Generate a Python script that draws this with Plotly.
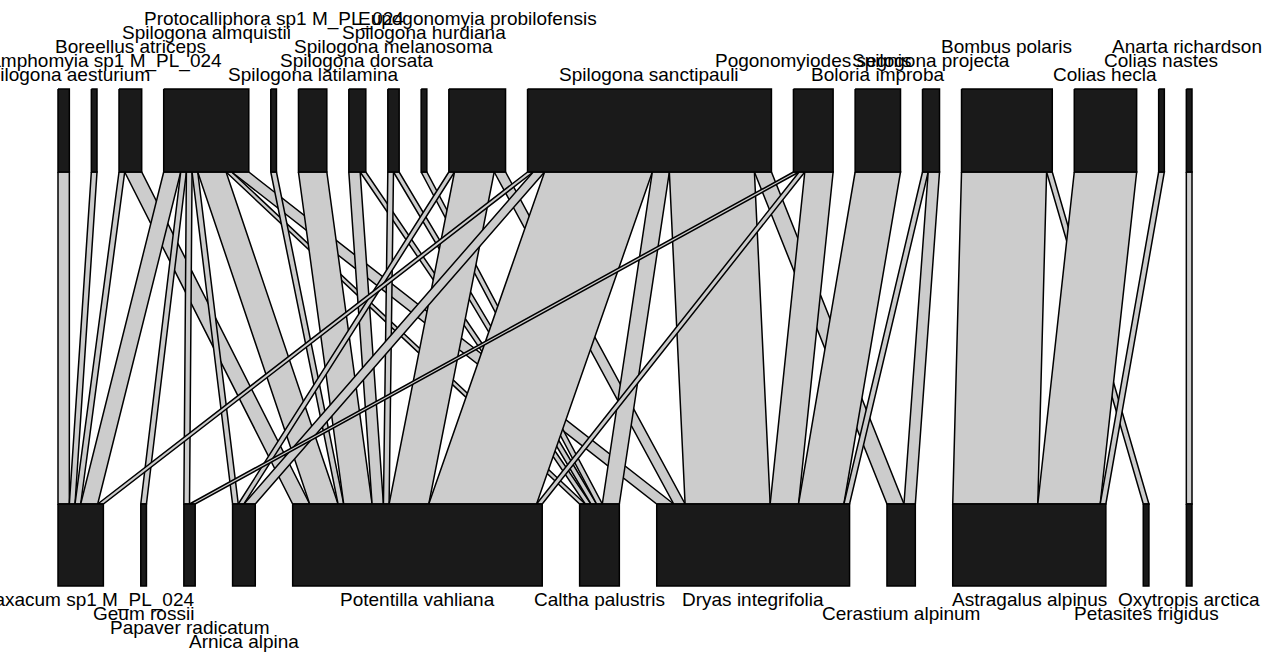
import plotly.graph_objects as go

# ---------------- data ----------------
pollinators = [
    "Spilogona aesturium", "Rhamphomyia sp1 M_PL_024", "Boreellus atriceps",
    "Spilogona almquistii", "Protocalliphora sp1 M_PL_024", "Spilogona latilamina",
    "Spilogona dorsata", "Spilogona melanosoma", "Spilogona hurdiana",
    "Eupogonomyia probilofensis", "Spilogona sanctipauli", "Pogonomyiodes segnis",
    "Boloria improba", "Spilogona projecta", "Bombus polaris", "Colias hecla",
    "Colias nastes", "Anarta richardsoni",
]
plants = [
    "Taraxacum sp1 M_PL_024", "Geum rossii", "Papaver radicatum", "Arnica alpina",
    "Potentilla vahliana", "Caltha palustris", "Dryas integrifolia",
    "Cerastium alpinum", "Astragalus alpinus", "Petasites frigidus", "Oxytropis arctica",
]
# interaction counts: one row per pollinator, columns follow `plants`
spilogona_aesturium      = [2, 0, 0, 0, 0, 0, 0, 0, 0, 0, 0]
rhamphomyia_sp1          = [1, 0, 0, 0, 0, 0, 0, 0, 0, 0, 0]
boreellus_atriceps       = [1, 0, 0, 0, 3, 0, 0, 0, 0, 0, 0]
spilogona_almquistii     = [3, 1, 1, 1, 5, 1, 3, 0, 0, 0, 0]
protocalliphora_sp1      = [0, 0, 0, 0, 1, 0, 0, 0, 0, 0, 0]
spilogona_latilamina     = [0, 0, 0, 0, 5, 0, 0, 0, 0, 0, 0]
spilogona_dorsata        = [0, 0, 0, 0, 2, 1, 0, 0, 0, 0, 0]
spilogona_melanosoma     = [0, 0, 0, 0, 1, 1, 0, 0, 0, 0, 0]
spilogona_hurdiana       = [0, 0, 0, 0, 0, 1, 0, 0, 0, 0, 0]
eupogonomyia_probilof    = [0, 0, 0, 1, 7, 0, 2, 0, 0, 0, 0]
spilogona_sanctipauli    = [1, 0, 0, 2, 19, 3, 15, 3, 0, 0, 0]
pogonomyiodes_segnis     = [0, 0, 1, 0, 1, 0, 5, 0, 0, 0, 0]
boloria_improba          = [0, 0, 0, 0, 0, 0, 8, 0, 0, 0, 0]
spilogona_projecta       = [0, 0, 0, 0, 0, 0, 1, 2, 0, 0, 0]
bombus_polaris           = [0, 0, 0, 0, 0, 0, 0, 0, 15, 1, 0]
colias_hecla             = [0, 0, 0, 0, 0, 0, 0, 0, 11, 0, 0]
colias_nastes            = [0, 0, 0, 0, 0, 0, 0, 0, 1, 0, 0]
anarta_richardsoni       = [0, 0, 0, 0, 0, 0, 0, 0, 0, 0, 1]

web = [
    spilogona_aesturium, rhamphomyia_sp1, boreellus_atriceps, spilogona_almquistii,
    protocalliphora_sp1, spilogona_latilamina, spilogona_dorsata, spilogona_melanosoma,
    spilogona_hurdiana, eupogonomyia_probilof, spilogona_sanctipauli, pogonomyiodes_segnis,
    boloria_improba, spilogona_projecta, bombus_polaris, colias_hecla, colias_nastes,
    anarta_richardsoni,
]

# label staggering tiers (layout only)
high_tier = [0, 1, 2, 3, 4, 0, 1, 2, 3, 4, 0, 1, 0, 1, 2, 0, 1, 2]
low_tier = [0, 1, 2, 3, 0, 0, 0, 1, 0, 1, 0]

# ---------------- layout (plot units == pixels) ----------------
W, H = 1262, 652
X0, X1 = 58.0, 1192.0
HIGH_TOP, HIGH_BOT = 89.0, 172.0
LOW_TOP, LOW_BOT = 504.0, 586.0
GAP_HIGH = 22.0

n_high, n_low = len(pollinators), len(plants)
high_tot = [sum(r) for r in web]
low_tot = [sum(web[i][j] for i in range(n_high)) for j in range(n_low)]
total = sum(high_tot)
GAP_LOW = GAP_HIGH * (n_high - 1) / (n_low - 1)
unit = ((X1 - X0) - GAP_HIGH * (n_high - 1)) / total

high_x = []
x = X0
for t in high_tot:
    high_x.append((x, x + t * unit))
    x += t * unit + GAP_HIGH
low_x = []
x = X0
for t in low_tot:
    low_x.append((x, x + t * unit))
    x += t * unit + GAP_LOW

# link segment positions on each box
high_seg = {}
for i in range(n_high):
    x = high_x[i][0]
    for j in range(n_low):
        v = web[i][j]
        if v > 0:
            high_seg[(i, j)] = (x, x + v * unit)
            x += v * unit
low_seg = {}
for j in range(n_low):
    x = low_x[j][0]
    for i in range(n_high):
        v = web[i][j]
        if v > 0:
            low_seg[(i, j)] = (x, x + v * unit)
            x += v * unit

LINK_FILL = "#CCCCCC"
BOX_FILL = "#1A1A1A"
LW = 1.5

fig = go.Figure()
for i in range(n_high):
    for j in range(n_low):
        if web[i][j] > 0:
            a, b = high_seg[(i, j)]
            c, d = low_seg[(i, j)]
            fig.add_trace(go.Scatter(
                x=[a, b, d, c, a], y=[HIGH_BOT, HIGH_BOT, LOW_TOP, LOW_TOP, HIGH_BOT],
                mode="lines", fill="toself", fillcolor=LINK_FILL,
                line=dict(color="black", width=LW), hoverinfo="skip", showlegend=False))

for (a, b) in high_x:
    fig.add_trace(go.Scatter(
        x=[a, b, b, a, a], y=[HIGH_TOP, HIGH_TOP, HIGH_BOT, HIGH_BOT, HIGH_TOP],
        mode="lines", fill="toself", fillcolor=BOX_FILL,
        line=dict(color="black", width=LW), hoverinfo="skip", showlegend=False))
for (a, b) in low_x:
    fig.add_trace(go.Scatter(
        x=[a, b, b, a, a], y=[LOW_TOP, LOW_TOP, LOW_BOT, LOW_BOT, LOW_TOP],
        mode="lines", fill="toself", fillcolor=BOX_FILL,
        line=dict(color="black", width=LW), hoverinfo="skip", showlegend=False))

FS = 19
FONT = dict(family="Liberation Sans, Arial, Helvetica, sans-serif", size=FS, color="black")
HIGH_BASE = 81.0
LOW_BASE = 606.5
STEP = 13.9
ann = []
for i, name in enumerate(pollinators):
    cx = (high_x[i][0] + high_x[i][1]) / 2
    base = HIGH_BASE - STEP * high_tier[i]
    ann.append(dict(x=cx, y=base - 0.3465 * FS, xref="x", yref="y", text=name,
                    showarrow=False, xanchor="center", yanchor="middle", font=FONT))
for j, name in enumerate(plants):
    cx = (low_x[j][0] + low_x[j][1]) / 2
    base = LOW_BASE + STEP * low_tier[j]
    ann.append(dict(x=cx, y=base - 0.3465 * FS, xref="x", yref="y", text=name,
                    showarrow=False, xanchor="center", yanchor="middle", font=FONT))

fig.update_layout(
    width=W, height=H, autosize=False,
    margin=dict(l=0, r=0, t=0, b=0, pad=0),
    paper_bgcolor="white", plot_bgcolor="white",
    xaxis=dict(range=[0, W], visible=False, fixedrange=True),
    yaxis=dict(range=[H, 0], visible=False, fixedrange=True),
    annotations=ann,
)
fig.write_html("out.html")
